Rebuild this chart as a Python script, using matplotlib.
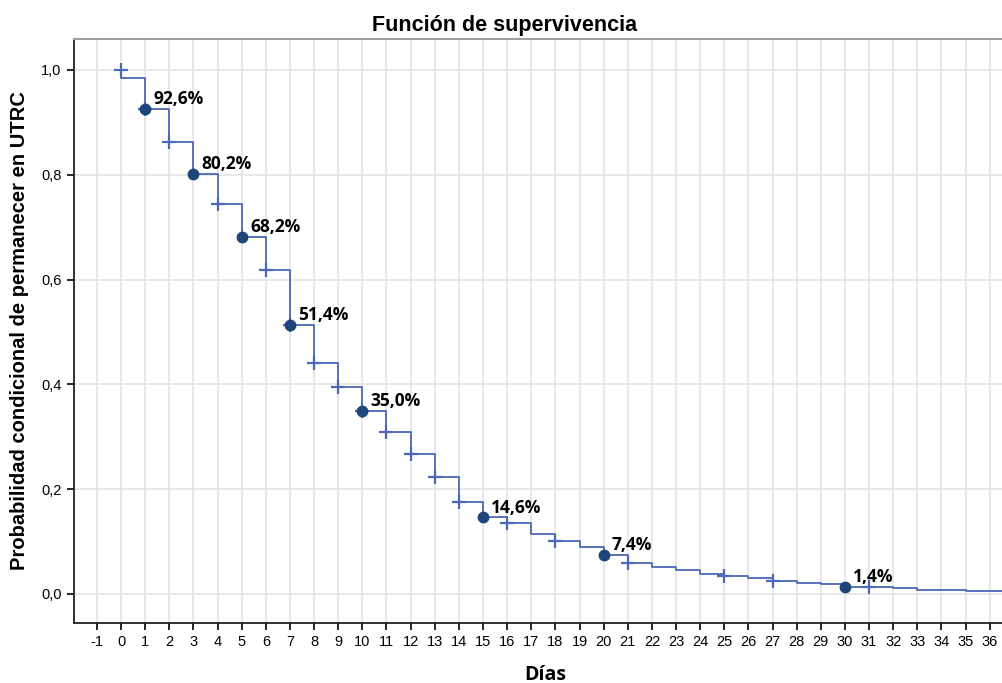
import matplotlib
matplotlib.use("Agg")
import matplotlib.pyplot as plt
import numpy as np

# Life-table survival estimates per day
start_level = 1.0
days = list(range(0, 37))
survival = [0.984, 0.926, 0.863, 0.802, 0.744, 0.682, 0.618, 0.514, 0.441, 0.394,
            0.350, 0.310, 0.267, 0.223, 0.175, 0.146, 0.135, 0.114, 0.102, 0.089,
            0.074, 0.060, 0.052, 0.045, 0.039, 0.034, 0.030, 0.025, 0.021, 0.019,
            0.014, 0.013, 0.011, 0.008, 0.007, 0.006, 0.005]

# Days carrying a censoring mark
censored_days = [0, 1, 2, 4, 6, 7, 8, 9, 10, 11, 12, 13, 14, 16, 18, 21, 25, 27, 31]

# Highlighted days with their survival percentage
labeled_days = [1, 3, 5, 7, 10, 15, 20, 30]
labeled_pct = [92.6, 80.2, 68.2, 51.4, 35.0, 14.6, 7.4, 1.4]

x_ticks = list(range(-1, 37))
y_ticks = [0.0, 0.2, 0.4, 0.6, 0.8, 1.0]
y_tick_labels = ["0,0", "0,2", "0,4", "0,6", "0,8", "1,0"]

line_color = "#4a67b8"
dot_color = "#1d467a"

fig = plt.figure(figsize=(10.03, 6.83), dpi=100)
ax = fig.add_axes([0.0738, 0.0883, 0.9262, 0.8546])

x_lo, x_hi = -1.95, 36.55
ax.set_xlim(x_lo, x_hi)
ax.set_ylim(-0.0548, 1.059)

# Step curve
xs = np.r_[days[0], days, x_hi + 1]
ys = np.r_[start_level, survival, survival[-1]]
ax.step(xs, ys, where="post", color=line_color, lw=1.3, zorder=3)

# Censoring marks
cens_y = [start_level if d == 0 else survival[d] for d in censored_days]
ax.plot(censored_days, cens_y, ls="none", marker="+", ms=10, mew=1.6,
        color=line_color, zorder=4)

# Highlighted points with labels
for d, p in zip(labeled_days, labeled_pct):
    v = p / 100.0
    ax.plot([d], [v], ls="none", marker="o", ms=7.5, color=dot_color, zorder=5)
    ax.annotate(f"{p:.1f}%".replace(".", ","), xy=(d, v), xytext=(6.0, 7.0),
                textcoords="offset points", ha="left", va="center",
                fontsize=12.5, fontweight="bold", family="Open Sans",
                color="black", zorder=6)

# Grid and axes styling
ax.set_xticks(x_ticks)
ax.set_xticklabels([str(t) for t in x_ticks], fontsize=10.5, family="Liberation Sans")
ax.set_yticks(y_ticks)
ax.set_yticklabels(y_tick_labels, fontsize=10.5, family="Liberation Sans")
ax.grid(True, color="#e6e6e6", lw=1.3, zorder=0)
ax.set_axisbelow(True)
ax.tick_params(direction="out", length=5, width=1.2, color="black", pad=4)

ax.spines["right"].set_visible(False)
ax.spines["top"].set_color("#a0a0a0")
ax.spines["top"].set_linewidth(1.5)
ax.spines["left"].set_color("#222222")
ax.spines["left"].set_linewidth(1.3)
ax.spines["bottom"].set_color("#222222")
ax.spines["bottom"].set_linewidth(1.3)

fig.text(505 / 1003, 1 - 25 / 683, "Función de supervivencia", ha="center", va="center",
         fontsize=15.5, fontweight="bold", family="Liberation Sans")
fig.text(20 / 1003, 1 - 331 / 683, "Probabilidad condicional de permanecer en UTRC",
         rotation=90, ha="center", va="center", fontsize=14.5, fontweight="bold",
         family="Liberation Sans")
fig.text(545 / 1003, 1 - 675 / 683, "Días", ha="center", va="center",
         fontsize=14, fontweight="bold", family="Open Sans")

fig.savefig("out.png", dpi=100)
